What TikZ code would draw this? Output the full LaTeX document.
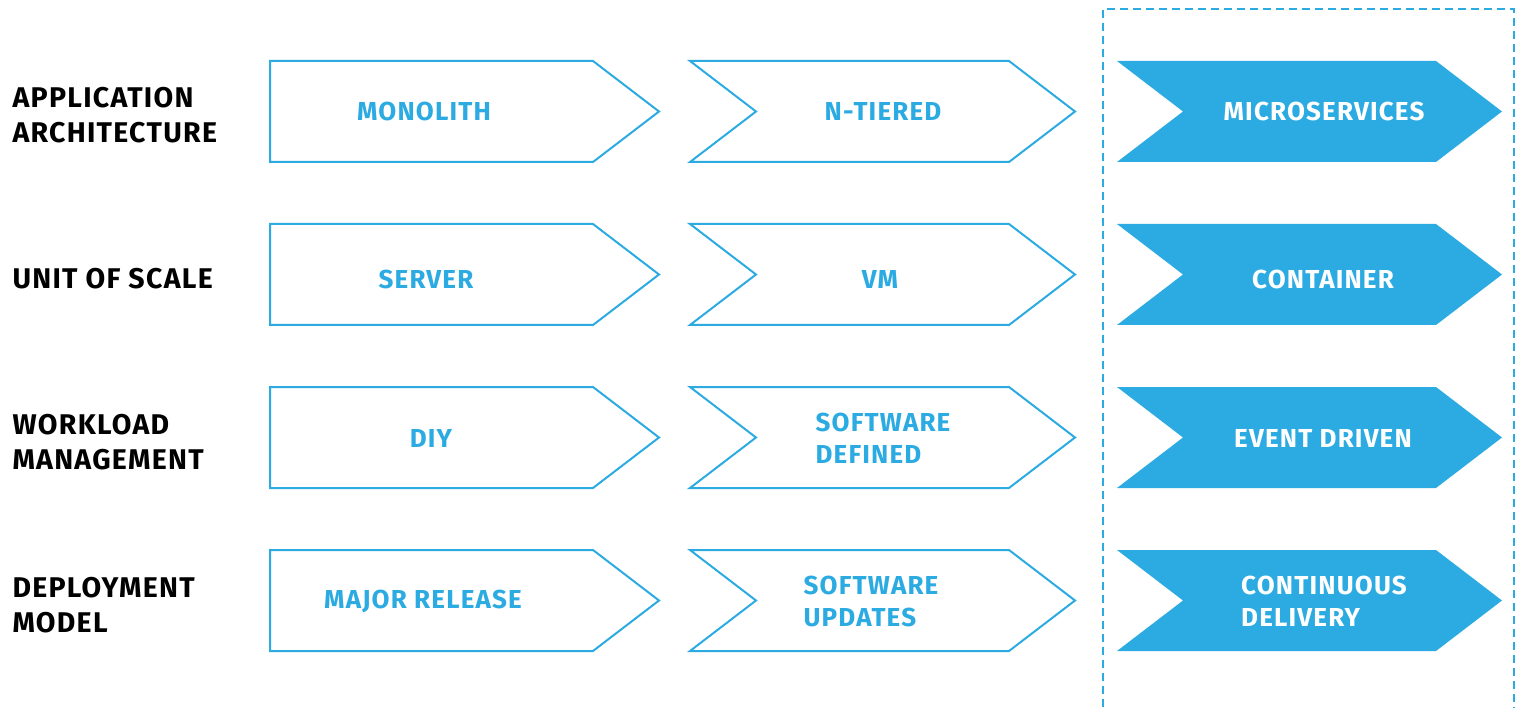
\documentclass[tikz,border=0pt]{standalone}
\usepackage{fontspec}
\setmainfont{Fira Sans}[LetterSpace=4.5]
\definecolor{stageblue}{HTML}{2CABE2}
\def\stagebox[#1](#2,#3)(#4:#5) % Syntax: [draw options] (left,top) (body width:notch depth)
    { \draw[#1] (#2,#3) -- ++(#4,0) -- ++(66,50.5) -- ++(-66,50.5) -- ++(-#4,0) -- ++(#5,-50.5) -- cycle; }

\begin{document}
\begin{tikzpicture}[x=1pt,y=-1pt,
  rowlabel/.style={anchor=west, align=left, text=black, font=\fontsize{28.5}{35}\selectfont\bfseries},
  stagetext/.style={align=left, text=stageblue, font=\fontsize{26}{32}\selectfont\bfseries},
  nowtext/.style={stagetext, text=white}]

\useasboundingbox (0,0) rectangle (1520,708);

% the current column
\draw[stageblue, line width=1.3pt, dash pattern=on 8pt off 5pt] (1103,720) -- (1103,9) -- (1514,9) -- (1514,720);

\foreach \t in {61,224,387,550} {
  \stagebox[stageblue, line width=2pt, line join=miter](270,\t)(323:0)
  \stagebox[stageblue, line width=2pt, line join=miter](690,\t)(319:66)
  \stagebox[fill=stageblue, draw=none](1117,\t)(319:66)
}

\node[rowlabel] (app) at (9,115) {APPLICATION\\ARCHITECTURE};
\node[rowlabel] (unit) at (9,279) {UNIT OF SCALE};
\node[rowlabel] (work) at (9,442) {WORKLOAD\\MANAGEMENT};
\node[rowlabel] (dep) at (9,605) {DEPLOYMENT\\MODEL};

\node[stagetext] (mono) at (424,111) {MONOLITH};
\node[stagetext] (ntier) at (883,111) {N-TIERED};
\node[nowtext] (micro) at (1324,111) {MICROSERVICES};

\node[stagetext] (server) at (426,279) {SERVER};
\node[stagetext] (vm) at (880,279) {VM};
\node[nowtext] (cont) at (1323,279) {CONTAINER};

\node[stagetext] (diy) at (431,438) {DIY};
\node[stagetext] (sdef) at (883,438) {SOFTWARE\\DEFINED};
\node[nowtext] (event) at (1323,438) {EVENT DRIVEN};

\node[stagetext] (major) at (423,601) {MAJOR RELEASE};
\node[stagetext] (supd) at (871,601) {SOFTWARE\\UPDATES};
\node[nowtext] (cd) at (1324,601) {CONTINUOUS\\DELIVERY};

\end{tikzpicture}
\end{document}
